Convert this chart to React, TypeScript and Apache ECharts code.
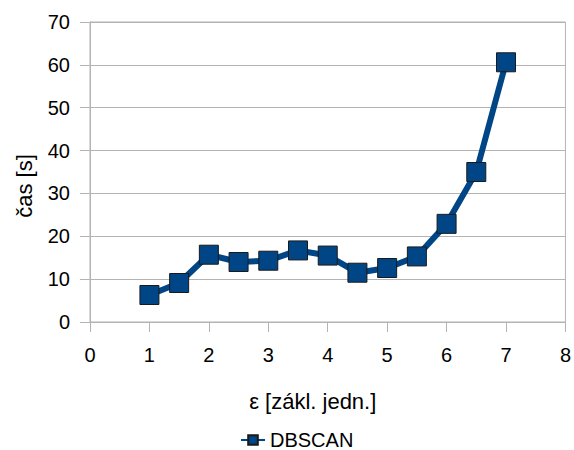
import React, { useEffect, useRef } from "react";
import * as echarts from "echarts";

// Run time of DBSCAN versus the neighbourhood radius epsilon
const epsValues = [1, 1.5, 2, 2.5, 3, 3.5, 4, 4.5, 5, 5.5, 6, 6.5, 7];
const timeValues = [6.3, 9.1, 15.7, 14.0, 14.3, 16.7, 15.5, 11.5, 12.6, 15.3, 22.9, 35.0, 60.6];
const seriesName = "DBSCAN";
const xName = "ε [zákl. jedn.]";
const yName = "čas [s]";

const FONT = "Liberation Sans, Arial, sans-serif";
const GRID_GRAY = "#b3b3b3";
const BLUE = "#004586";

export default function App() {
  const ref = useRef<HTMLDivElement>(null);

  useEffect(() => {
    if (!ref.current) return;
    const chart = echarts.init(ref.current, undefined, { renderer: "svg" });
    chart.setOption({
      animation: false,
      textStyle: { fontFamily: FONT, color: "#000" },
      grid: {
        left: 90,
        right: 7,
        top: 22,
        bottom: 128,
        show: true,
        borderColor: GRID_GRAY,
        borderWidth: 1,
      },
      legend: {
        left: 235,
        top: 425,
        padding: [5, 5, 0, 5],
        itemWidth: 24,
        itemHeight: 12,
        textStyle: { fontFamily: FONT, fontSize: 20, lineHeight: 20, color: "#000" },
        data: [{ name: seriesName }],
      },
      xAxis: {
        type: "value",
        min: 0,
        max: 8,
        interval: 1,
        name: xName,
        nameLocation: "middle",
        nameGap: 68,
        // right padding nudges the centred title a little to the left
        nameTextStyle: { fontFamily: FONT, fontSize: 22, color: "#000", padding: [0, 30, 0, 0] },
        axisLine: { show: true, lineStyle: { color: GRID_GRAY, width: 1 } },
        axisTick: { show: true, length: 10, lineStyle: { color: GRID_GRAY, width: 1 } },
        axisLabel: { fontFamily: FONT, fontSize: 20, color: "#000", margin: 23 },
        splitLine: { show: false },
      },
      yAxis: {
        type: "value",
        min: 0,
        max: 70,
        interval: 10,
        name: yName,
        nameLocation: "middle",
        nameGap: 55,
        // rotated title: right padding moves it slightly downwards
        nameTextStyle: { fontFamily: FONT, fontSize: 22, color: "#000", padding: [0, 28, 0, 0] },
        axisLine: { show: true, lineStyle: { color: GRID_GRAY, width: 1 } },
        axisTick: { show: true, length: 10, lineStyle: { color: GRID_GRAY, width: 1 } },
        axisLabel: { fontFamily: FONT, fontSize: 20, color: "#000", margin: 20 },
        splitLine: { show: true, lineStyle: { color: GRID_GRAY, width: 1 } },
      },
      series: [
        {
          name: seriesName,
          type: "line",
          data: epsValues.map((x, i) => [x, timeValues[i]]),
          symbol: "rect",
          symbolSize: 19,
          showAllSymbol: true,
          lineStyle: { color: BLUE, width: 6 },
          itemStyle: { color: BLUE, borderColor: "#1a1a1a", borderWidth: 1 },
          emphasis: { disabled: true },
        },
      ],
    });
    return () => chart.dispose();
  }, []);

  return <div ref={ref} style={{ width: 574, height: 450, position: "absolute", left: 0, top: 0 }} />;
}
